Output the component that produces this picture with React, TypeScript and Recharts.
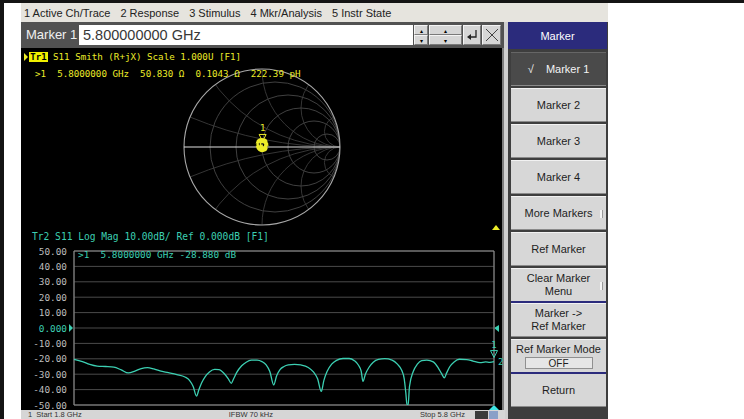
import React from 'react';
import { LineChart, Line, XAxis, YAxis, CartesianGrid, ReferenceArea, ReferenceDot } from 'recharts';

// Log-mag trace (Tr2, S11)
const FREQ_GHZ = [
  1.8, 1.88, 1.95, 2.02, 2.1, 2.18, 2.25, 2.317, 2.38, 2.44, 2.5, 2.56, 2.619, 2.7, 2.78, 2.857,
  2.9, 2.935, 2.967, 2.99, 3.016, 3.05, 3.09, 3.14, 3.18, 3.23, 3.27, 3.298, 3.32, 3.35, 3.397,
  3.44, 3.49, 3.543, 3.59, 3.63, 3.665, 3.702, 3.73, 3.762, 3.8, 3.841, 3.9, 3.96, 4.031, 4.08,
  4.12, 4.155, 4.18, 4.21, 4.254, 4.3, 4.362, 4.42, 4.47, 4.508, 4.535, 4.552, 4.575, 4.61, 4.65,
  4.7, 4.76, 4.829, 4.88, 4.921, 4.945, 4.96, 4.972, 4.982, 4.995, 5.031, 5.07, 5.111, 5.16,
  5.222, 5.27, 5.3, 5.327, 5.35, 5.38, 5.42, 5.47, 5.54, 5.6, 5.667, 5.72, 5.76, 5.8,
];
const S11_DB = [
  -20.3, -21.8, -23.6, -24.7, -25.0, -25.4, -27.2, -29.2, -28.0, -26.3, -25.7, -26.6, -27.9, -29.0, -30.2, -31.8,
  -34.0, -38.0, -44.2, -40.0, -35.5, -31.5, -28.5, -26.9, -27.0, -29.5, -33.0, -35.9, -33.0, -28.8, -24.5,
  -22.2, -20.9, -20.8, -21.8, -24.0, -28.3, -37.0, -31.0, -27.0, -25.0, -24.0, -23.6, -24.0, -25.6, -28.5,
  -33.0, -41.2, -34.0, -28.3, -23.5, -21.0, -19.8, -19.8, -21.2, -24.0, -28.0, -34.7, -30.0, -25.5, -22.2,
  -20.4, -19.9, -20.8, -23.5, -27.5, -33.0, -42.0, -50.0, -50.0, -38.0, -28.2, -23.5, -21.2, -20.8,
  -22.0, -26.0, -29.5, -32.3, -29.0, -25.0, -22.0, -20.3, -20.5, -21.5, -22.5, -22.0, -22.3, -21.8,
];
const DB_TICKS = [50, 40, 30, 20, 10, 0, -10, -20, -30, -40, -50];
const FREQ_TICKS = [1.8, 2.2, 2.6, 3.0, 3.4, 3.8, 4.2, 4.6, 5.0, 5.4, 5.8];

// Smith chart trace (Tr1) as reflection coefficient, a small tangle around the centre
const SMITH_RE = [0.06, 0.07, 0.04, -0.01, -0.05, -0.07, -0.05, -0.01, 0.04, 0.07, 0.06, 0.02, -0.03, -0.06, -0.05, -0.01, 0.03, 0.05, 0.03, -0.01, -0.03, -0.02, 0.01];
const SMITH_IM = [0.02, 0.06, 0.09, 0.1, 0.08, 0.03, -0.02, -0.05, -0.04, 0.0, 0.05, 0.08, 0.08, 0.05, 0.0, -0.02, -0.01, 0.03, 0.06, 0.07, 0.04, 0.01, 0.02];
const SMITH_MARKER = { re: 0.008, im: 0.02 };
const R_CIRCLES = [0.2, 0.5, 1, 2, 5];
const X_ARCS = [0.2, 0.5, 1, 2, 5];

const MENU_ITEMS = ['1 Active Ch/Trace', '2 Response', '3 Stimulus', '4 Mkr/Analysis', '5 Instr State'];
const SOFTKEYS = ['Marker 1', 'Marker 2', 'Marker 3', 'Marker 4', 'More Markers', 'Ref Marker', 'Clear Marker\nMenu', 'Marker ->\nRef Marker', 'Ref Marker Mode', 'Return'];
const SOFTKEY_SUBMENU = ['More Markers', 'Clear Marker\nMenu'];
const STATUS_ITEMS = ['1  Start 1.8 GHz', 'IFBW 70 kHz', 'Stop 5.8 GHz'];

const logMagData = FREQ_GHZ.map((f, i) => ({ f, db: S11_DB[i] }));
const smithData = SMITH_RE.map((re, i) => ({ re, im: SMITH_IM[i] }));

const MONO = '"DejaVu Sans Mono", "Liberation Mono", monospace';
const UI = '"Liberation Sans", Arial, sans-serif';
const TEAL = '#3ccfb2';
const YELLOW = '#ecec28';
const SMITH_R = 78;

const SmithGrid = ({ cx, cy }: any) => (
  <g>
    <defs>
      <clipPath id="smith-clip">
        <circle cx={cx} cy={cy} r={SMITH_R} />
      </clipPath>
    </defs>
    <g clipPath="url(#smith-clip)" fill="none" strokeWidth={0.8}>
      {R_CIRCLES.map((r) => (
        <circle key={'r' + r} cx={cx + (SMITH_R * r) / (1 + r)} cy={cy} r={SMITH_R / (1 + r)} stroke="#505050" />
      ))}
      {X_ARCS.flatMap((x) => [x, -x]).map((x) => (
        <circle key={'x' + x} cx={cx + SMITH_R} cy={cy - SMITH_R / x} r={SMITH_R / Math.abs(x)} stroke="#434343" />
      ))}
    </g>
    <circle cx={cx} cy={cy} r={SMITH_R} fill="none" stroke="#a8a8a8" strokeWidth={1.1} />
    <line x1={cx - SMITH_R} x2={cx + SMITH_R} y1={cy} y2={cy} stroke="#e0e0e0" strokeWidth={1} />
  </g>
);

const MarkerGlyph = ({ cx, cy, color, second }: any) => (
  <g>
    <text x={cx} y={cy - 14} textAnchor="middle" fill={color} fontSize={9} fontFamily={MONO}>1</text>
    <path d={`M${cx - 3.5},${cy - 11} L${cx + 3.5},${cy - 11} L${cx},${cy - 4} Z`} fill="none" stroke={color} strokeWidth={1} />
    {second && (
      <text x={cx + 4} y={cy + 3} fill={color} fontSize={9} fontFamily={MONO}>2</text>
    )}
  </g>
);

const DbTick = ({ x, y, payload }: any) => {
  const zero = payload.value === 0;
  return (
    <g>
      <text x={x} y={y} dy={3.5} textAnchor="end" fill={zero ? TEAL : '#bdbdbd'} fontSize={9.4} fontFamily={MONO}>
        {zero ? '0.000' : payload.value.toFixed(2)}
      </text>
      {zero && <path d={`M${x + 2},${y - 4} L${x + 6},${y} L${x + 2},${y + 4} Z`} fill={TEAL} />}
    </g>
  );
};

const abs = (left: number, top: number, width: number, height: number, extra: any = {}) => ({
  position: 'absolute' as const,
  left,
  top,
  width,
  height,
  ...extra,
});

const Button3d = ({ left, top, width, height, children }: any) => (
  <div
    style={abs(left, top, width, height, {
      background: '#d6d6d6',
      borderTop: '1px solid #f4f4f4',
      borderLeft: '1px solid #f4f4f4',
      borderBottom: '1px solid #7a7a7a',
      borderRight: '1px solid #7a7a7a',
      boxSizing: 'border-box',
      display: 'flex',
      alignItems: 'center',
      justifyContent: 'center',
    })}
  >
    {children}
  </div>
);

export default function App() {
  return (
    <div style={abs(0, 0, 744, 419, { background: '#fff', overflow: 'hidden', fontFamily: UI })}>
      {/* frame lines */}
      <div style={abs(0, 0, 744, 3, { background: '#141414' })} />
      <div style={abs(0, 0, 4, 419, { background: '#141414' })} />

      {/* menu bar */}
      <div style={abs(21, 3, 587, 19, { background: '#e6e4de', display: 'flex', alignItems: 'center', fontSize: 11, color: '#222' })}>
        <div style={{ width: 3 }} />
        {MENU_ITEMS.map((m) => (
          <span key={m} style={{ marginRight: 10, whiteSpace: 'pre' }}>{m}</span>
        ))}
      </div>

      {/* entry bar */}
      <div style={abs(21, 22, 484, 26, { background: '#525252' })} />
      <div style={abs(26, 26, 52, 18, { color: '#f0f0f0', fontSize: 13, lineHeight: '18px' })}>Marker 1</div>
      <div style={abs(79, 25, 334, 20, { background: '#fff', color: '#383838', fontSize: 14.5, lineHeight: '20px', paddingLeft: 4, boxSizing: 'border-box' })}>
        5.800000000 GHz
      </div>
      <Button3d left={414} top={25} width={14} height={10}><span style={{ fontSize: 6 }}>▴</span></Button3d>
      <Button3d left={414} top={35} width={14} height={10}><span style={{ fontSize: 6 }}>▾</span></Button3d>
      <Button3d left={429} top={25} width={33} height={10}><span style={{ fontSize: 6 }}>▴</span></Button3d>
      <Button3d left={429} top={35} width={33} height={10}><span style={{ fontSize: 6 }}>▾</span></Button3d>
      <Button3d left={463} top={25} width={18} height={20}>
        <svg width={12} height={12}>
          <path d="M10,1 L10,8 L3,8" fill="none" stroke="#222" strokeWidth={1.3} />
          <path d="M1,8 L5,5 L5,11 Z" fill="#222" />
        </svg>
      </Button3d>
      <Button3d left={482} top={25} width={19} height={20}>
        <svg width={14} height={14}>
          <path d="M1,1 L13,13 M13,1 L1,13" stroke="#444" strokeWidth={1} />
        </svg>
      </Button3d>

      {/* instrument display */}
      <div style={abs(21, 48, 482, 362, { background: '#000' })} />
      <div style={abs(502, 48, 2, 362, { background: '#7c7c7c' })} />
      <div style={abs(504, 22, 4, 397, { background: '#cfcfcf' })} />

      {/* Tr1 Smith chart */}
      <div style={abs(174, 59, 176, 176)}>
        <LineChart width={176} height={176} data={smithData} margin={{ top: 10, right: 10, bottom: 10, left: 10 }}>
          <XAxis type="number" dataKey="re" domain={[-1, 1]} hide allowDataOverflow />
          <YAxis type="number" dataKey="im" domain={[-1, 1]} hide allowDataOverflow />
          <ReferenceDot x={0} y={0} r={0} shape={(p: any) => <SmithGrid {...p} />} />
        </LineChart>
      </div>
      <div style={abs(174, 59, 176, 176)}>
        <LineChart width={176} height={176} data={smithData} margin={{ top: 10, right: 10, bottom: 10, left: 10 }}>
          <XAxis type="number" dataKey="re" domain={[-1, 1]} hide allowDataOverflow />
          <YAxis type="number" dataKey="im" domain={[-1, 1]} hide allowDataOverflow />
          <Line dataKey="im" type="monotone" stroke={YELLOW} strokeWidth={2.6} dot={false} isAnimationActive={false} />
          <ReferenceDot
            x={SMITH_MARKER.re}
            y={SMITH_MARKER.im}
            r={0}
            shape={(p: any) => <MarkerGlyph {...p} color={YELLOW} />}
          />
        </LineChart>
      </div>

      <svg style={abs(21, 48, 482, 362, { pointerEvents: 'none' })} width={482} height={362}>
        <path d="M3,5 L7,9 L3,13 Z" fill={YELLOW} />
        <path d="M471,182 L479,182 L475,177 Z" fill={YELLOW} />
        <path d="M478,277 L473,280 L478,284 Z" fill={TEAL} />
        <path d="M468,362 L478,362 L473,357 Z" fill="#3ee4e4" />
      </svg>
      <div style={abs(29, 52, 19, 10, { background: '#f0f000', color: '#000', fontFamily: MONO, fontSize: 9, lineHeight: '10px', textAlign: 'center', fontWeight: 'bold' })}>Tr1</div>
      <div style={abs(53, 52, 260, 10, { color: YELLOW, fontFamily: MONO, fontSize: 9.2, lineHeight: '10px', whiteSpace: 'pre' })}>
        S11 Smith (R+jX) Scale 1.000U [F1]
      </div>
      <div style={abs(35, 69, 300, 10, { color: YELLOW, fontFamily: MONO, fontSize: 9.2, lineHeight: '10px', whiteSpace: 'pre' })}>
        {'>1  5.8000000 GHz  50.830 Ω  0.1043 Ω  222.39 pH'}
      </div>

      {/* Tr2 log mag */}
      <div style={abs(32, 232, 300, 10, { color: TEAL, fontFamily: MONO, fontSize: 9.6, lineHeight: '10px', whiteSpace: 'pre' })}>
        Tr2 S11 Log Mag 10.00dB/ Ref 0.000dB [F1]
      </div>
      <div style={abs(24, 241, 480, 174)}>
        <LineChart width={480} height={174} data={logMagData} margin={{ top: 10, right: 10, bottom: 10, left: 0 }}>
          <CartesianGrid stroke="#4a4a4a" strokeWidth={1} />
          <XAxis type="number" dataKey="f" domain={[1.8, 5.8]} ticks={FREQ_TICKS} tick={false} axisLine={false} tickLine={false} height={0} />
          <YAxis
            type="number"
            domain={[-50, 50]}
            ticks={DB_TICKS}
            interval={0}
            width={50}
            axisLine={false}
            tickLine={false}
            tickSize={5}
            tickMargin={2}
            tick={<DbTick />}
            allowDataOverflow
          />
          <ReferenceArea x1={1.8} x2={5.8} y1={-50} y2={50} fill="none" stroke="#8e8e8e" strokeWidth={1} />
          <Line dataKey="db" type="monotone" stroke={TEAL} strokeWidth={1.3} dot={false} isAnimationActive={false} />
          <ReferenceDot
            x={FREQ_GHZ[FREQ_GHZ.length - 1]}
            y={S11_DB[S11_DB.length - 1]}
            r={0}
            shape={(p: any) => <MarkerGlyph {...p} color={TEAL} second />}
          />
        </LineChart>
      </div>
      <div style={abs(78, 250, 300, 10, { color: TEAL, fontFamily: MONO, fontSize: 9.4, lineHeight: '10px', whiteSpace: 'pre' })}>
        {'>1  5.8000000 GHz -28.880 dB'}
      </div>

      {/* status bar */}
      <div style={abs(21, 410, 484, 9, { background: '#d6d6d6', display: 'flex', alignItems: 'center', justifyContent: 'space-between', padding: '0 40px 0 7px', boxSizing: 'border-box', fontSize: 7.5, lineHeight: '9px', color: '#333' })}>
        {STATUS_ITEMS.map((s) => (
          <span key={s} style={{ whiteSpace: 'pre' }}>{s}</span>
        ))}
        <div style={abs(454, 1, 13, 8, { background: '#3c3c3c' })} />
        <div style={abs(468, 1, 9, 8, { background: '#8aa0c8' })} />
      </div>

      {/* softkey panel */}
      <div style={abs(508, 22, 100, 397, { background: '#3e3e3e' })} />
      <div style={abs(508, 22, 99, 27, { background: '#2b2b7c', color: '#fff', fontSize: 11, display: 'flex', alignItems: 'center', justifyContent: 'center' })}>
        Marker
      </div>
      {SOFTKEYS.map((label, i) => {
        const top = 52 + i * 36 - (i > 6 ? 1 : 0) - (i > 8 ? 2 : 0);
        const active = i === 0;
        return (
          <div
            key={label}
            style={abs(511, top, 95, 34, {
              background: active ? '#4a4a4a' : '#d7d7d7',
              color: active ? '#f4f4f4' : '#1e1e1e',
              borderTop: active ? '1px solid #666' : '1px solid #f2f2f2',
              borderBottom: '1px solid #8a8a8a',
              boxSizing: 'border-box',
              fontSize: 11,
              lineHeight: '13px',
              whiteSpace: 'pre',
              textAlign: 'center',
              display: 'flex',
              flexDirection: 'column',
              alignItems: 'center',
              justifyContent: label === 'Ref Marker Mode' ? 'flex-start' : 'center',
              paddingTop: label === 'Ref Marker Mode' ? 3 : 0,
            })}
          >
            {active ? '√    ' + label : label}
            {label === 'Ref Marker Mode' && (
              <div style={{ marginTop: 1, width: 68, height: 12, background: '#e6e6e6', border: '1px solid #909090', boxSizing: 'border-box', fontSize: 10, lineHeight: '11px' }}>
                OFF
              </div>
            )}
            {SOFTKEY_SUBMENU.includes(label) && (
              <div style={abs(89, 13, 2, 8, { background: '#f4f4f4', borderRight: '1px solid #999' })} />
            )}
          </div>
        );
      })}
      <div style={abs(511, 301, 95, 2, { background: '#2b2b7c' })} />
      <div style={abs(511, 372, 95, 2, { background: '#2b2b7c' })} />
    </div>
  );
}
